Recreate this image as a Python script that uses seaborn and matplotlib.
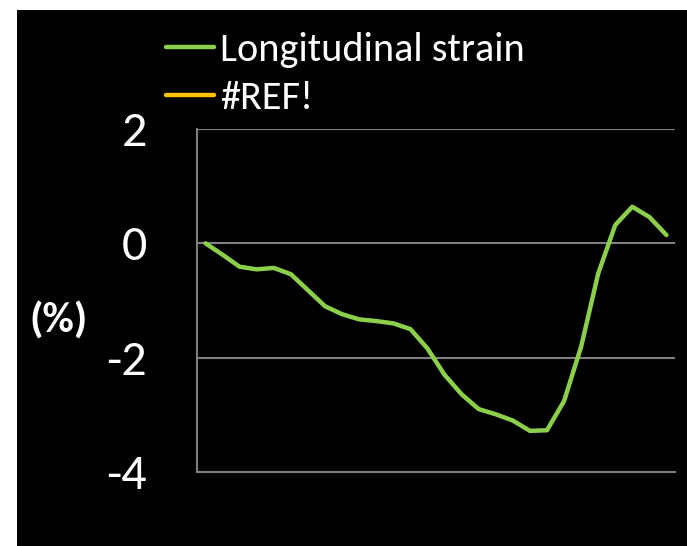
import numpy as np
import pandas as pd
import matplotlib
matplotlib.use("Agg")
import matplotlib.pyplot as plt
from matplotlib.patches import Rectangle
from matplotlib.lines import Line2D
from matplotlib import font_manager
import seaborn as sns

# ---- data ----
frames = list(range(28))
strain = [0.0, -0.2, -0.41, -0.455, -0.43, -0.54, -0.82, -1.10, -1.24, -1.33,
          -1.36, -1.40, -1.50, -1.84, -2.30, -2.64, -2.90, -2.99, -3.10, -3.28,
          -3.27, -2.76, -1.81, -0.53, 0.32, 0.64, 0.46, 0.145]
series_names = ["Longitudinal strain", "#REF!"]
yticks = [-4, -2, 0, 2]
ylabel = "(%)"

GREEN = "#8CCF4A"
ORANGE = "#FFC000"
GRID = "#808080"

sns.set_theme(style="dark")
names = {f.name for f in font_manager.fontManager.ttflist}
# (family, legend size, tick size, label size)
candidates = [("Carlito", 29, 36, 31),
              ("Lato", 24, 32, 29)]
fam, fs_leg, fs_tick, fs_lab = next(c for c in candidates if c[0] in names)
plt.rcParams["font.family"] = [fam, "DejaVu Sans"]

W, H = 687, 546
fig = plt.figure(figsize=(W / 100, H / 100), dpi=100, facecolor="white")
fig.patches.append(Rectangle((17 / W, 0), 1 - 17 / W, (H - 10) / H,
                             transform=fig.transFigure, facecolor="black",
                             edgecolor="none", zorder=-10))

ax = fig.add_axes([197 / W, (H - 472) / H, (675 - 197) / W, (472 - 129) / H])
ax.set_facecolor("black")
ax.set_zorder(1)

df = pd.DataFrame({"frame": frames, "strain": strain})
sns.lineplot(data=df, x="frame", y="strain", color=GREEN, linewidth=3.2, ax=ax,
             legend=False, zorder=3)

ax.set_xlim(-0.5, len(frames) - 0.5)
ax.set_ylim(-4, 2)
ax.set_yticks(yticks)
ax.set_yticklabels([str(t) for t in yticks], color="white", fontsize=fs_tick)
ax.tick_params(axis="y", length=0, pad=36)
ax.set_xticks([])
ax.set_xlabel("")
ax.set_ylabel("")
ax.grid(False)
for yv in [0, -2, 2]:
    ax.axhline(yv, color=GRID, linewidth=1.5, zorder=1)

for s in ["top", "right"]:
    ax.spines[s].set_visible(False)
for s in ["left", "bottom"]:
    ax.spines[s].set_visible(True)
    ax.spines[s].set_color(GRID)
    ax.spines[s].set_linewidth(1.5)

fig.text(58 / W, 1 - 321 / H, ylabel, color="white", fontsize=fs_lab,
         fontweight="bold", ha="center", va="center")

handles = [Line2D([], [], color=GREEN, linewidth=3.2),
           Line2D([], [], color=ORANGE, linewidth=3.2)]
leg = fig.legend(handles, series_names, loc="upper left",
                 bbox_to_anchor=(150 / W, 1 - 16 / H), frameon=False,
                 fontsize=fs_leg, handlelength=1.2, handletextpad=0.15,
                 labelspacing=0.3, borderaxespad=0)
for t in leg.get_texts():
    t.set_color("white")

fig.savefig("out.png", dpi=100, facecolor="white")
